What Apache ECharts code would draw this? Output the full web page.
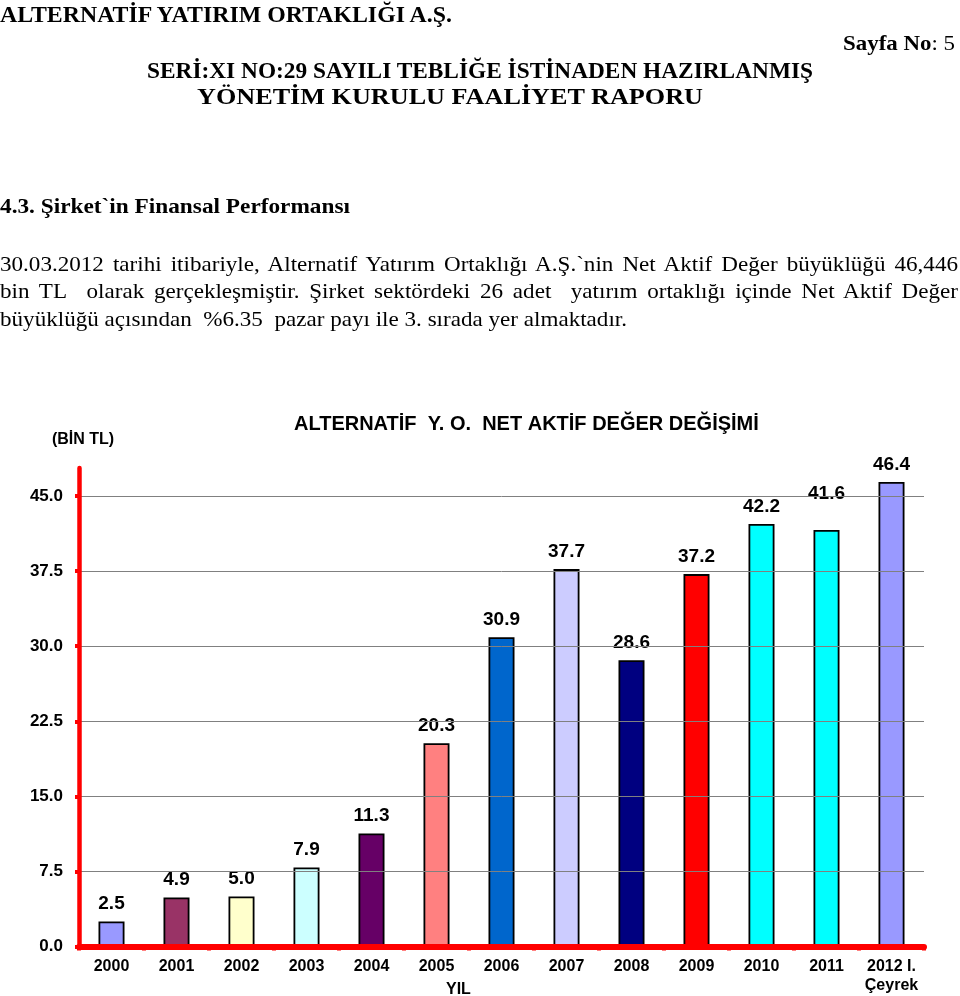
<!DOCTYPE html>
<html><head><meta charset="utf-8">
<script src="https://cdn.jsdelivr.net/npm/echarts@6/dist/echarts.min.js"></script>
<style>
html,body{margin:0;padding:0;background:#fff;width:960px;height:996px;overflow:hidden}
#chart{position:absolute;left:0;top:0;width:960px;height:996px}
.t{position:absolute;white-space:pre;font-family:"Liberation Serif","Times New Roman",serif;color:#000;line-height:1;transform-origin:0 0;z-index:2}
.b{font-weight:bold}
.j{text-align:justify;text-align-last:justify}
</style></head><body>
<div id="chart"></div>
<div class="t b" data-x="0" data-base="22" data-w="452" data-fs="23">ALTERNATİF YATIRIM ORTAKLIĞI A.Ş.</div>
<div class="t" data-x="843" data-base="50" data-w="112" data-fs="22"><b>Sayfa No</b>: 5</div>
<div class="t b" data-x="147" data-base="78" data-w="666" data-fs="23">SERİ:XI NO:29 SAYILI TEBLİĞE İSTİNADEN HAZIRLANMIŞ</div>
<div class="t b" data-x="197" data-base="104" data-w="506" data-fs="23">YÖNETİM KURULU FAALİYET RAPORU</div>
<div class="t b" data-x="0" data-base="213" data-w="350" data-fs="22">4.3. Şirket`in Finansal Performansı</div>
<div class="t" id="p3" data-x="0" data-base="327" data-w="627" data-fs="21">büyüklüğü açısından  %6.35  pazar payı ile 3. sırada yer almaktadır.</div>
<div class="t j pj" data-x="0" data-base="272" data-fs="21">30.03.2012 tarihi itibariyle, Alternatif Yatırım Ortaklığı A.Ş.`nin Net Aktif Değer büyüklüğü 46,446</div>
<div class="t j pj" data-x="0" data-base="299" data-fs="21">bin TL&nbsp; olarak gerçekleşmiştir. Şirket sektördeki 26 adet&nbsp; yatırım ortaklığı içinde Net Aktif Değer</div>
<script>
// ---- data ----
const categories = ['2000','2001','2002','2003','2004','2005','2006','2007','2008','2009','2010','2011','2012 I.\nÇeyrek'];
const values = [2.5, 4.9, 5.0, 7.9, 11.3, 20.3, 30.9, 37.7, 28.6, 37.2, 42.2, 41.6, 46.4];
const yTicks = [0, 7.5, 15, 22.5, 30, 37.5, 45];
const chartTitle = 'ALTERNATİF  Y. O.  NET AKTİF DEĞER DEĞİŞİMİ';
const yUnit = '(BİN TL)';
const xName = 'YIL';
// ---- styles ----
const barColors = ['#9999FF','#993366','#FFFFCC','#CCFFFF','#660066','#FF8080','#0066CC','#CCCCFF','#000080','#FF0000','#00FFFF','#00FFFF','#9999FF'];
const labelShift = {11: -19};

// page text layout
let pscale = 1;
document.querySelectorAll('.t').forEach(el => {
  const fs = +el.dataset.fs;
  el.style.fontSize = fs + 'px';
  el.style.left = el.dataset.x + 'px';
  el.style.top = (+el.dataset.base - 0.8375 * fs) + 'px';
});
document.querySelectorAll('.t[data-w]').forEach(el => {
  const w = el.getBoundingClientRect().width;
  const s = (+el.dataset.w) / w;
  el.style.transform = 'scaleX(' + s + ')';
  if (el.id === 'p3') pscale = s;
});
document.querySelectorAll('.pj').forEach(el => {
  el.style.width = (958 / pscale) + 'px';
  el.style.whiteSpace = 'normal';
  el.style.transform = 'scaleX(' + pscale + ')';
});

const FONT = '"Liberation Sans", Arial, sans-serif';
const chart = echarts.init(document.getElementById('chart'));
chart.setOption({
  animation: false,
  textStyle: {fontFamily: FONT},
  title: {text: chartTitle, left: 289, top: 409,
    textStyle: {fontSize: 20, fontWeight: 'bold', color: '#000', fontFamily: FONT}},
  grid: {left: 79, right: 36, top: 468, bottom: 49.5},
  xAxis: {
    type: 'category', data: categories, z: 5,
    axisLine: {lineStyle: {color: '#FF0000', width: 6}},
    axisTick: {show: true, length: 4, lineStyle: {color: '#FF0000', width: 4}},
    axisLabel: {color: '#000', fontSize: 16, fontWeight: 'bold', margin: 11, lineHeight: 19, interval: 0, fontFamily: FONT}
  },
  yAxis: {
    type: 'value', min: 0, max: 47.8, interval: 7.5, z: 5,
    name: yUnit, nameLocation: 'end', nameGap: 20,
    nameTextStyle: {color: '#000', fontSize: 16, fontWeight: 'bold', fontFamily: FONT, align: 'center', padding: [0, 0, 0, 8]},
    axisLine: {show: true, lineStyle: {color: '#FF0000', width: 4.5}},
    axisTick: {show: true, length: 4, lineStyle: {color: '#FF0000', width: 4}, customValues: yTicks},
    axisLabel: {customValues: yTicks, formatter: v => v.toFixed(1),
      fontSize: 17, fontWeight: 'bold', color: '#000', margin: 16, fontFamily: FONT},
    splitLine: {show: true, lineStyle: {color: '#808080', width: 1}}
  },
  series: [{
    type: 'bar', barWidth: 26,
    itemStyle: {borderColor: '#000', borderWidth: 1.8},
    label: {show: true, position: 'top', distance: 8, fontSize: 19, fontWeight: 'bold', color: '#000',
      fontFamily: FONT, formatter: p => p.value.toFixed(1)},
    data: values.map((v, i) => {
      const d = {value: v, itemStyle: {color: barColors[i]}};
      if (labelShift[i]) d.label = {offset: [0, labelShift[i]]};
      return d;
    })
  }],
  graphic: [{type: 'text', left: 446, top: 982,
    style: {text: xName, font: 'bold 16px ' + FONT, fill: '#000'}}]
});
</script>
</body></html>
